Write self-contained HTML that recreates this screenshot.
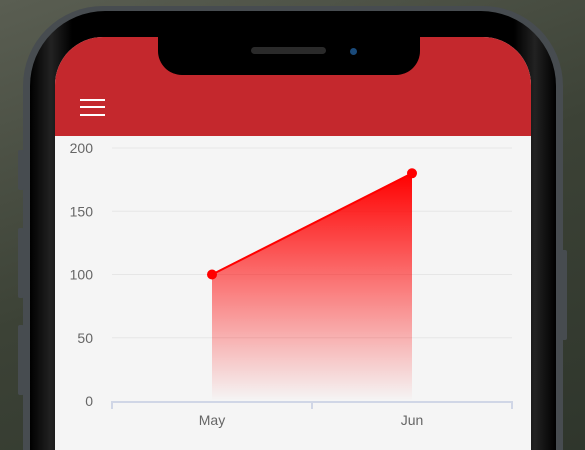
<!DOCTYPE html>
<html><head><meta charset="utf-8"><style>
html,body{margin:0;padding:0;width:585px;height:450px;overflow:hidden}
#wrap{position:relative;width:585px;height:450px;overflow:hidden;background:linear-gradient(160deg,#5a5e52 0%,#3c4236 50%,#2f362c 100%);font-family:"Liberation Sans",sans-serif}
.abs{position:absolute}
</style></head><body>
<div id="wrap">
<div class="abs" style="left:23px;top:6px;width:540px;height:444px;border-radius:80px 80px 0 0;background:#474c50"></div>
<div class="abs" style="left:18px;top:150px;width:6px;height:40px;background:#474c50;border-radius:2px"></div>
<div class="abs" style="left:18px;top:228px;width:6px;height:70px;background:#474c50;border-radius:2px"></div>
<div class="abs" style="left:18px;top:325px;width:6px;height:70px;background:#474c50;border-radius:2px"></div>
<div class="abs" style="left:561px;top:250px;width:6px;height:90px;background:#474c50;border-radius:2px"></div>
<div class="abs" style="left:30px;top:11px;width:526px;height:439px;border-radius:75px 75px 0 0;background:linear-gradient(90deg,#000 0%,#222 4%,#000 8%,#000 92%,#222 96%,#000 100%)"></div>
<div class="abs" style="left:55px;top:37px;width:476px;height:413px;border-radius:48px 48px 0 0;background:#f5f5f5;overflow:hidden">
  <div class="abs" style="left:0;top:0;width:476px;height:99px;background:#c4282d"></div>
  <div class="abs" style="left:25px;top:62px;width:25px;height:18px">
    <div style="position:absolute;left:0;top:0;width:25px;height:2px;background:#fff"></div>
    <div style="position:absolute;left:0;top:7px;width:25px;height:2px;background:#fff"></div>
    <div style="position:absolute;left:0;top:15px;width:25px;height:2px;background:#fff"></div>
  </div>
</div>
<div class="abs" style="left:158px;top:20px;width:262px;height:55px;background:#000;border-radius:0 0 24px 24px"></div>
<div class="abs" style="left:251px;top:47px;width:75px;height:7px;background:#2a2a2a;border-radius:4px"></div>
<div class="abs" style="left:350px;top:48px;width:7px;height:7px;background:#1a4a7a;border-radius:50%"></div>
<svg class="abs" style="left:0;top:0" width="585" height="450">
<defs><linearGradient id="g" x1="0" y1="0" x2="0" y2="1"><stop offset="0" stop-color="#ff0000" stop-opacity="1"/><stop offset="1" stop-color="#ff0000" stop-opacity="0"/></linearGradient></defs>
<g id="grid"></g><g id="series"></g>
</svg>
</div>
<script>
const categories=["May","Jun"];
const values=[100,180];
const yTicks=[0,50,100,150,200];
const NS="http://www.w3.org/2000/svg";
const x0=112,x1=512,yB=401,yT=148,yMax=200;
const y=v=>yB-(v/yMax)*(yB-yT);
const band=(x1-x0)/categories.length;
const x=i=>x0+band*(i+0.5);
const grid=document.getElementById('grid'),ser=document.getElementById('series');
function mk(tag,at,p){const e=document.createElementNS(NS,tag);for(const k in at)e.setAttribute(k,at[k]);p.appendChild(e);return e;}
yTicks.forEach(t=>{
 if(t>0){const l=mk('line',{x1:x0,x2:x1,y1:y(t),y2:y(t),stroke:'#e6e6e6','stroke-width':1},grid);
 
 }
 const tx=mk('text',{x:93,y:y(t)+5,'text-anchor':'end','font-size':14,fill:'#666','font-family':'Liberation Sans, sans-serif'},grid);
 tx.textContent=t;
 
 
});
const ax=mk('line',{x1:x0,x2:x1,y1:yB+1,y2:yB+1,stroke:'#d0d6e6','stroke-width':2},grid);


for(let i=0;i<=categories.length;i++){
 const tk=mk('line',{x1:x0+band*i,x2:x0+band*i,y1:yB,y2:yB+8,stroke:'#d0d6e6','stroke-width':2},grid);
 
 
}
categories.forEach((c,i)=>{
 const tx=mk('text',{x:x(i),y:425,'text-anchor':'middle','font-size':14,fill:'#666','font-family':'Liberation Sans, sans-serif'},grid);
 tx.textContent=c;
 
 
});
let d='M'+x(0)+','+yB;
values.forEach((v,i)=>d+=' L'+x(i)+','+y(v));
d+=' L'+x(values.length-1)+','+yB+' Z';
const area=mk('path',{d:d,fill:'url(#g)'},ser);


const line=mk('polyline',{points:values.map((v,i)=>x(i)+','+y(v)).join(' '),fill:'none',stroke:'#ff0000','stroke-width':2},ser);


values.forEach((v,i)=>{
 const c=mk('circle',{cx:x(i),cy:y(v),r:5,fill:'#ff0000'},ser);
 
 
});
</script>
</body></html>
